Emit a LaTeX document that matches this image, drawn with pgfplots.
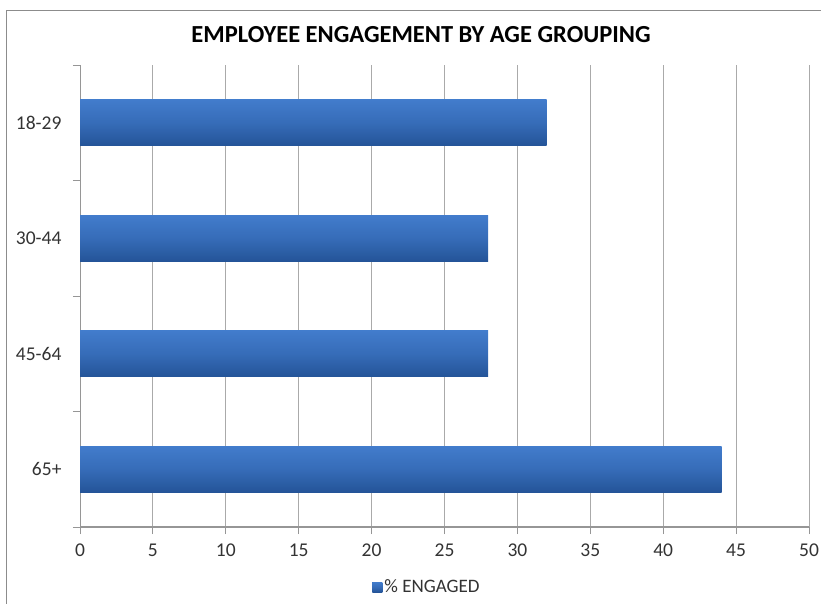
\documentclass[border=0pt]{standalone}
\usepackage{pgfplots}
\pgfplotsset{compat=1.18}
\usepackage{fontspec}
\setmainfont{Carlito}
\definecolor{bartop}{RGB}{66,124,204}
\definecolor{barmid}{RGB}{54,108,184}
\definecolor{barbot}{RGB}{36,84,152}
\definecolor{gridc}{RGB}{170,170,170}
\definecolor{axc}{RGB}{150,150,150}
\definecolor{framec}{RGB}{140,140,140}
\begin{document}
\begin{tikzpicture}[x=1pt,y=1pt]
\path[use as bounding box] (0,0) rectangle (821,604);
\draw[framec,line width=1pt] (6,0) -- (6,593) -- (821,593);
\node[font=\fontsize{24.5}{28}\selectfont\bfseries] at (421,569) {EMPLOYEE ENGAGEMENT BY AGE GROUPING};
\begin{axis}[
  at={(80pt,77pt)}, anchor=south west,
  scale only axis, width=729pt, height=462pt,
  xmin=0, xmax=50, ymin=-0.5, ymax=3.5,
  xtick={0,5,...,50},
  ytick={0,1,2,3},
  yticklabels={65+,45-64,30-44,18-29},
  minor ytick={-0.5,0.5,1.5,2.5,3.5},
  major y tick style={draw=none},
  minor tick length=7pt,
  major tick length=7pt,
  tick align=outside,
  xmajorgrids, grid style={gridc, line width=0.9pt},
  axis x line*=bottom, axis y line*=left,
  x axis line style={axc, line width=1.6pt, -},
  y axis line style={axc, line width=1pt, -},
  x tick style={axc, line width=0.9pt},
  minor y tick style={axc, line width=0.9pt},
  tick label style={font=\fontsize{19.5}{22}\selectfont, text=black!80},
  xticklabel style={yshift=-6pt},
  yticklabel style={xshift=-8pt},
  /pgf/number format/assume math mode=true,
  no markers,
  legend style={at={(axis description cs:0.476,-0.13)}, anchor=center, draw=none, font=\fontsize{19}{22}\selectfont, text=black!80, inner sep=0pt},
  legend image code/.code={\fill[barmid] (0pt,-5pt) rectangle (10pt,5pt);},
  every axis plot/.append style={xbar, bar width=46pt, bar shift=0pt, draw=none, top color=bartop, bottom color=barbot, middle color=barmid},
]
\addplot coordinates {(32,3)};
\addlegendentry{\% ENGAGED}
\addplot[forget plot] coordinates {(28,2)};
\addplot[forget plot] coordinates {(28,1)};
\addplot[forget plot] coordinates {(44,0)};
\end{axis}
\end{tikzpicture}
\end{document}
